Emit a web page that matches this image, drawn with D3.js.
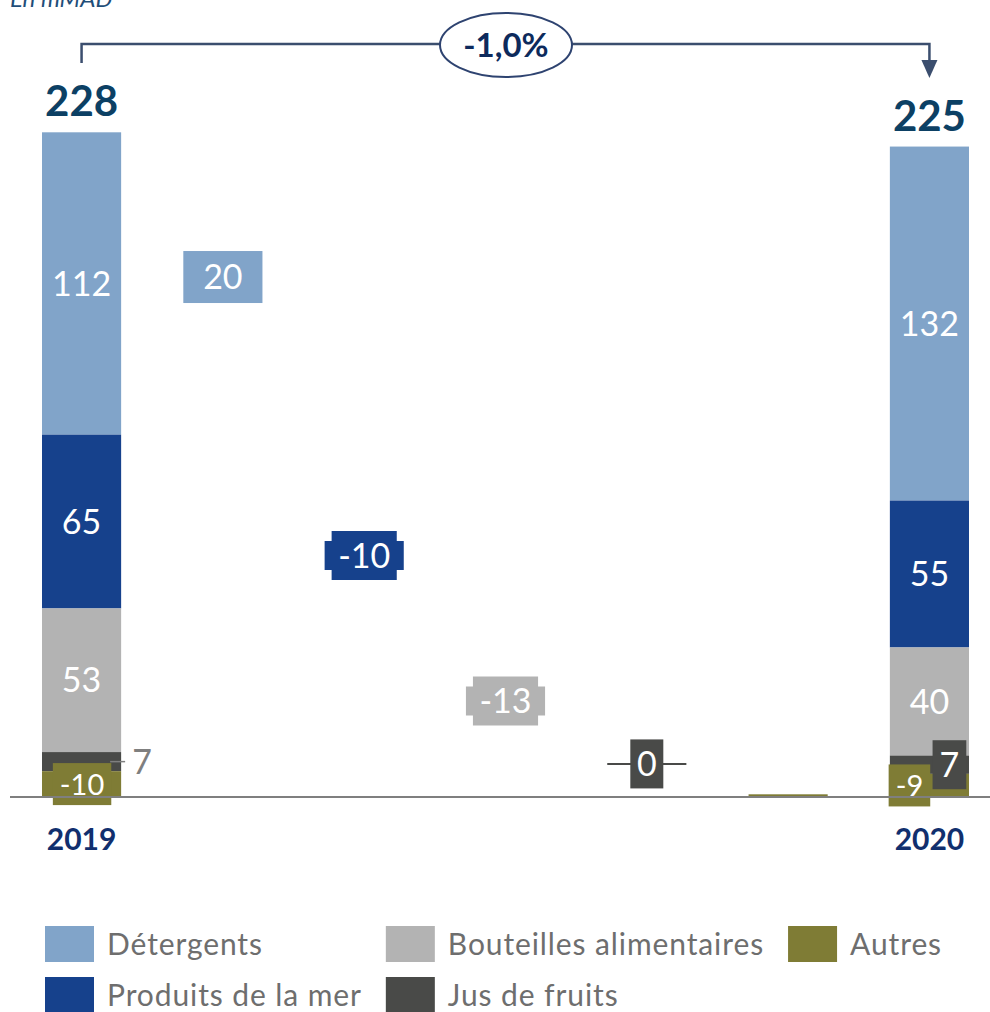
<!DOCTYPE html>
<html><head><meta charset="utf-8">
<script src="https://cdn.jsdelivr.net/npm/d3@7"></script>
<style>body{margin:0;background:#fff;} svg{display:block;font-family:Lato, "Open Sans", sans-serif;}</style>
</head><body><svg id="c" width="990" height="1012"></svg>
<script>
// ---- data ----
const categories = ["Détergents", "Produits de la mer", "Bouteilles alimentaires", "Jus de fruits", "Autres"];
const years = ["2019", "2020"];
const values2019 = [112.4, 64.6, 53.4, 7.1, -9.6];
const values2020 = [131.6, 54.6, 40.2, 6.8, -8.6];
const totals = [228, 225];
const changes = [20, -10, -13, 0, 1];
const bridgeFrom = [183.3, 94.8, 42.2, 12.3, 0];
const growthLabel = "-1,0%";
const unitLabel = "En mMAD";
const colors = ["#81a4c9", "#16418c", "#b3b3b3", "#494a48", "#7f7c35"];

// ---- chart ----
const svg = d3.select("#c");
const x = d3.scaleBand().domain([years[0], ...categories, years[1]])
  .range([42, 969]).paddingInner(0.44).paddingOuter(0);
const y = d3.scaleLinear().domain([0, 250]).range([797, 124.5]);
const bw = x.bandwidth();

function stack(vals) {
  let acc = 0; const out = [];
  for (let i = vals.length - 1; i >= 0; i--) {
    const h = Math.abs(vals[i]);
    out[i] = {y0: acc, y1: acc + h, v: vals[i], i};
    acc += h;
  }
  return out;
}
function notched(x0, y0, w, h, cx, cy) {
  return `M${x0+cx},${y0}H${x0+w-cx}V${y0+cy}H${x0+w}V${y0+h-cy}H${x0+w-cx}V${y0+h}H${x0+cx}V${y0+h-cy}H${x0}V${y0+cy}H${x0+cx}Z`;
}
const fmt = v => d3.format(".0f")(v).replace("−", "-");

// unit label
svg.append("text").attr("x", 10).attr("y", 7).attr("font-style", "italic")
  .attr("font-size", 24).attr("fill", "#1f4e79").text(unitLabel);

// year stacks
[values2019, values2020].forEach((vals, yi) => {
  const yr = years[yi];
  const bx = x(yr), cx = bx + bw / 2;
  const segs = stack(vals);
  const g = svg.append("g");
  g.selectAll("rect").data(segs).join("rect")
    .attr("x", bx).attr("width", bw)
    .attr("y", d => y(d.y1)).attr("height", d => y(d.y0) - y(d.y1))
    .attr("fill", d => colors[d.i]);
  segs.forEach(d => {
    const my = y((d.y0 + d.y1) / 2);
    if (d.i <= 2) {
      g.append("text").attr("x", cx).attr("y", my).attr("dy", "0.36em")
        .attr("text-anchor", "middle").attr("font-size", 34).attr("fill", "#fff").text(fmt(d.v));
    } else if (d.i === 3 && yi === 0) {
      g.append("line").attr("x1", bx + bw - 11).attr("x2", bx + bw + 4)
        .attr("y1", my).attr("y2", my).attr("stroke", "#7f7f7f").attr("stroke-width", 1.5);
      g.append("text").attr("x", bx + bw + 11).attr("y", my).attr("dy", "0.36em")
        .attr("font-size", 34).attr("fill", "#7f7f7f").text(fmt(d.v));
    } else {
      const isJus = d.i === 3;
      const fs = isJus ? 34 : 29;
      const lx = isJus ? cx + 20 : (yi === 0 ? cx + 0.5 : cx - 20);
      const t = g.append("text").attr("x", lx).attr("y", my).attr("dy", "0.36em")
        .attr("text-anchor", "middle").attr("font-size", fs).attr("fill", "#fff").text(fmt(d.v));
      const tw = t.node().getComputedTextLength();
      const bh = isJus ? 49 : 42;
      g.insert("rect", () => t.node()).attr("x", lx - tw / 2 - 7).attr("width", tw + 14)
        .attr("y", my - bh / 2).attr("height", bh).attr("fill", colors[d.i]);
    }
  });
  // totals
  svg.append("text").attr("x", cx).attr("y", y(segs[0].y1) - 16)
    .attr("text-anchor", "middle").attr("font-size", 42).attr("font-weight", 700)
    .attr("fill", "#0c4064").text(totals[yi]);
  // year label
  svg.append("text").attr("x", cx).attr("y", 850).attr("text-anchor", "middle")
    .attr("font-size", 30).attr("font-weight", 700).attr("fill", "#112f6e").text(yr);
});

// bridge
categories.forEach((c, i) => {
  const bx = x(c), cx = bx + bw / 2;
  const a = bridgeFrom[i], b = bridgeFrom[i] + changes[i];
  const lo = Math.min(a, b), hi = Math.max(a, b);
  if (i === 4) {
    svg.append("rect").attr("x", bx).attr("width", bw).attr("y", y(hi))
      .attr("height", y(lo) - y(hi)).attr("fill", colors[i]);
    return;
  }
  if (changes[i] === 0) {
    svg.append("line").attr("x1", bx).attr("x2", bx + bw).attr("y1", y(a)).attr("y2", y(a))
      .attr("stroke", colors[i]).attr("stroke-width", 2);
  }
  const my = y((a + b) / 2);
  const t = svg.append("text").attr("x", cx).attr("y", my).attr("dy", "0.36em")
    .attr("text-anchor", "middle").attr("font-size", 34).attr("fill", "#fff").text(fmt(changes[i]));
  if (i === 0) {
    svg.insert("rect", () => t.node()).attr("x", bx).attr("width", bw)
      .attr("y", my - 26).attr("height", 52).attr("fill", colors[i]);
  } else if (changes[i] === 0) {
    svg.insert("rect", () => t.node()).attr("x", cx - 16.5).attr("width", 33)
      .attr("y", my - 24.5).attr("height", 49).attr("fill", colors[i]);
  } else {
    svg.insert("path", () => t.node()).attr("d", notched(bx, my - 24.5, bw, 49, 7, 10))
      .attr("fill", colors[i]);
  }
});

// baseline
svg.append("line").attr("x1", 10).attr("x2", 990).attr("y1", y(0)).attr("y2", y(0))
  .attr("stroke", "#7f7f7f").attr("stroke-width", 2);

// growth connector
const x1c = x(years[0]) + bw / 2, x2c = x(years[1]) + bw / 2, ly = 44;
svg.append("path").attr("d", `M${x1c},63V${ly}H${x2c}V64`).attr("fill", "none")
  .attr("stroke", "#3b4e6e").attr("stroke-width", 2.5);
svg.append("path").attr("d", `M${x2c-8},60L${x2c+8},60L${x2c},78Z`).attr("fill", "#3b4e6e");
svg.append("ellipse").attr("cx", 506).attr("cy", ly + 1).attr("rx", 66).attr("ry", 32)
  .attr("fill", "#fff").attr("stroke", "#2e4370").attr("stroke-width", 2);
svg.append("text").attr("x", 506).attr("y", ly + 1).attr("dy", "0.36em").attr("text-anchor", "middle")
  .attr("font-size", 33).attr("font-weight", 700).attr("fill", "#0d2a5c").text(growthLabel);

// legend (column-major, 2 rows)
const legend = svg.append("g");
let colX = 45;
for (let col = 0; col * 2 < categories.length; col++) {
  let maxW = 0;
  for (let r = 0; r < 2; r++) {
    const i = col * 2 + r;
    if (i >= categories.length) break;
    const yy = 926 + r * 51;
    legend.append("rect").attr("x", colX).attr("y", yy).attr("width", 49).attr("height", 36).attr("fill", colors[i]);
    const t = legend.append("text").attr("x", colX + 62).attr("y", yy + 29)
      .attr("font-size", 30).attr("letter-spacing", 0.9).attr("fill", "#6e6e6e").text(categories[i]);
    maxW = Math.max(maxW, t.node().getComputedTextLength());
  }
  colX = colX + 62 + maxW + 24;
}
</script></body></html>
